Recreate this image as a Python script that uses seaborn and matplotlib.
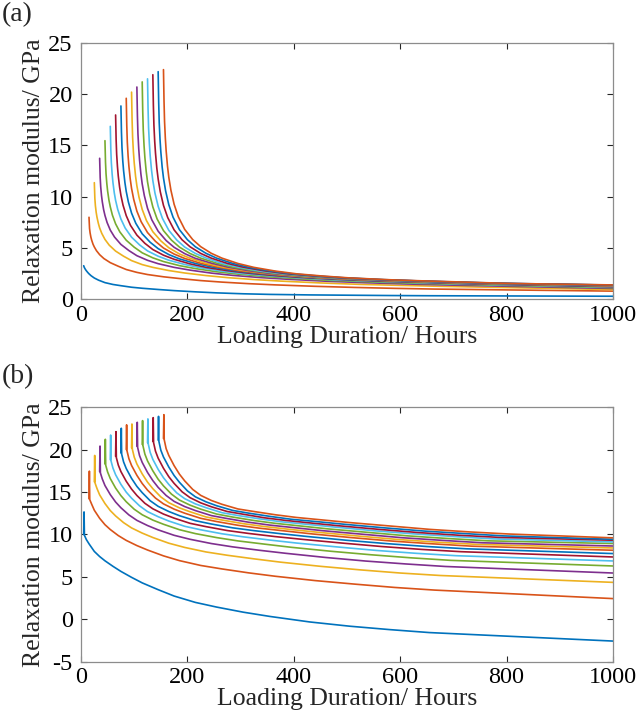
import matplotlib
matplotlib.use("Agg")
import pandas as pd
import seaborn as sns
import matplotlib.pyplot as plt

# loading ages (hours) at which each curve starts
start_hours = [5, 15, 25, 35, 45, 55, 65, 75, 85, 95, 105, 115, 125, 135, 145, 155]
end_hour = 1000

# hours after loading at which values were read; the last value of each row is at end_hour
offsets_a = [0, 1, 2, 3.5, 5, 7.5, 10, 14, 20, 28, 40, 55, 70, 90, 110, 140, 170,
             210, 250, 300, 350, 425, 500, 575, 650]
offsets_b = [0, 0.7, 1.4, 5, 10, 20, 30, 40, 55, 70, 90, 110, 140, 170, 210, 250,
             300, 350, 425, 500, 575, 650]

# (a) relaxation modulus, GPa
modulus_a = [
    [3.25, 3.1, 3.0, 2.87, 2.76, 2.6, 2.46, 2.27, 2.05, 1.84, 1.6, 1.42, 1.3, 1.15, 1.05, 0.93, 0.82, 0.70, 0.60, 0.51, 0.45, 0.40, 0.37, 0.34, 0.32, 0.27],
    [7.98, 6.89, 6.47, 6.05, 5.75, 5.36, 5.08, 4.72, 4.33, 3.95, 3.55, 3.2, 2.88, 2.6, 2.39, 2.17, 2.0, 1.80, 1.65, 1.50, 1.38, 1.24, 1.13, 1.04, 0.97, 0.77],
    [11.36, 9.82, 9.12, 8.46, 7.99, 7.40, 6.94, 6.41, 5.82, 5.26, 4.68, 4.18, 3.75, 3.36, 3.09, 2.78, 2.54, 2.29, 2.09, 1.90, 1.75, 1.57, 1.43, 1.33, 1.24, 0.92],
    [13.74, 11.87, 10.95, 10.10, 9.49, 8.72, 8.16, 7.47, 6.73, 6.05, 5.33, 4.73, 4.23, 3.78, 3.45, 3.09, 2.82, 2.53, 2.31, 2.10, 1.94, 1.74, 1.59, 1.47, 1.37, 1.03],
    [15.46, 13.37, 12.24, 11.26, 10.54, 9.65, 9.00, 8.19, 7.34, 6.55, 5.74, 5.06, 4.51, 4.02, 3.66, 3.26, 2.97, 2.66, 2.43, 2.20, 2.03, 1.82, 1.67, 1.55, 1.45, 1.10],
    [16.86, 14.58, 13.30, 12.19, 11.38, 10.37, 9.63, 8.75, 7.81, 6.93, 6.04, 5.29, 4.70, 4.18, 3.79, 3.37, 3.05, 2.73, 2.48, 2.26, 2.07, 1.87, 1.72, 1.60, 1.48, 1.16],
    [17.97, 15.54, 14.12, 12.92, 12.02, 10.93, 10.12, 9.16, 8.14, 7.19, 6.24, 5.44, 4.83, 4.28, 3.88, 3.43, 3.09, 2.77, 2.52, 2.28, 2.10, 1.90, 1.74, 1.63, 1.51, 1.20],
    [18.85, 16.31, 14.78, 13.48, 12.54, 11.37, 10.50, 9.48, 8.39, 7.39, 6.37, 5.54, 4.92, 4.34, 3.92, 3.47, 3.13, 2.79, 2.53, 2.30, 2.11, 1.91, 1.76, 1.64, 1.53, 1.24],
    [19.6, 16.95, 15.33, 13.96, 12.96, 11.72, 10.80, 9.74, 8.58, 7.55, 6.49, 5.63, 4.98, 4.39, 3.96, 3.49, 3.14, 2.78, 2.53, 2.29, 2.12, 1.92, 1.76, 1.65, 1.53, 1.27],
    [20.2, 17.47, 15.78, 14.34, 13.29, 12.0, 11.05, 9.94, 8.75, 7.66, 6.57, 5.68, 5.01, 4.40, 3.98, 3.49, 3.13, 2.79, 2.53, 2.29, 2.10, 1.92, 1.77, 1.65, 1.54, 1.29],
    [20.7, 17.91, 16.13, 14.66, 13.58, 12.23, 11.24, 10.10, 8.86, 7.74, 6.62, 5.71, 5.05, 4.43, 3.97, 3.50, 3.13, 2.77, 2.50, 2.28, 2.10, 1.91, 1.77, 1.65, 1.54, 1.31],
    [21.2, 18.34, 16.49, 14.97, 13.84, 12.47, 11.45, 10.26, 8.99, 7.82, 6.68, 5.75, 5.07, 4.44, 3.99, 3.50, 3.12, 2.77, 2.50, 2.27, 2.09, 1.91, 1.76, 1.65, 1.53, 1.33],
    [21.5, 18.60, 16.71, 15.15, 14.01, 12.60, 11.56, 10.34, 9.05, 7.88, 6.71, 5.76, 5.07, 4.45, 4.0, 3.48, 3.12, 2.75, 2.49, 2.27, 2.09, 1.90, 1.76, 1.64, 1.53, 1.34],
    [21.9, 18.94, 17.0, 15.40, 14.24, 12.77, 11.72, 10.47, 9.14, 7.95, 6.75, 5.78, 5.10, 4.45, 3.99, 3.48, 3.11, 2.75, 2.48, 2.26, 2.08, 1.89, 1.76, 1.64, 1.53, 1.355],
    [22.2, 19.20, 17.22, 15.58, 14.39, 12.90, 11.82, 10.56, 9.21, 7.99, 6.77, 5.79, 5.10, 4.46, 3.99, 3.48, 3.10, 2.74, 2.47, 2.25, 2.07, 1.89, 1.75, 1.64, 1.53, 1.365],
    [22.4, 19.38, 17.36, 15.70, 14.49, 12.99, 11.89, 10.62, 9.25, 8.02, 6.79, 5.80, 5.11, 4.46, 3.99, 3.47, 3.09, 2.73, 2.46, 2.24, 2.06, 1.88, 1.75, 1.64, 1.52, 1.375],
]

# (b) relaxation modulus, GPa
modulus_b = [
    [10.0, 12.65, 9.9, 9.4, 8.9, 8.0, 7.4, 6.9, 6.25, 5.65, 4.95, 4.3, 3.5, 2.75, 2.0, 1.45, 0.85, 0.35, -0.3, -0.8, -1.2, -1.55, -2.55],
    [14.2, 17.45, 14.1, 13.56, 12.85, 11.90, 11.15, 10.58, 9.87, 9.30, 8.69, 8.17, 7.48, 6.92, 6.35, 5.94, 5.48, 5.08, 4.57, 4.15, 3.76, 3.45, 2.45],
    [16.2, 19.3, 16.05, 15.41, 14.66, 13.64, 12.81, 12.18, 11.39, 10.77, 10.16, 9.64, 8.97, 8.47, 7.94, 7.55, 7.13, 6.74, 6.25, 5.83, 5.46, 5.17, 4.36],
    [17.4, 20.4, 17.25, 16.53, 15.76, 14.69, 13.82, 13.14, 12.30, 11.66, 11.05, 10.54, 9.90, 9.43, 8.93, 8.54, 8.14, 7.78, 7.29, 6.87, 6.53, 6.23, 5.46],
    [18.3, 21.2, 18.15, 17.35, 16.58, 15.46, 14.57, 13.85, 12.97, 12.32, 11.69, 11.20, 10.56, 10.10, 9.63, 9.24, 8.86, 8.49, 8.02, 7.61, 7.25, 6.95, 6.29],
    [18.8, 21.7, 18.65, 17.82, 17.03, 15.90, 14.98, 14.27, 13.37, 12.69, 12.09, 11.58, 10.96, 10.55, 10.08, 9.72, 9.34, 8.99, 8.54, 8.12, 7.78, 7.50, 6.88],
    [19.2, 22.1, 19.05, 18.18, 17.40, 16.26, 15.34, 14.59, 13.67, 13.02, 12.40, 11.92, 11.31, 10.92, 10.46, 10.12, 9.75, 9.43, 8.99, 8.58, 8.24, 7.97, 7.35],
    [19.6, 22.5, 19.45, 18.54, 17.76, 16.60, 15.66, 14.92, 13.97, 13.31, 12.70, 12.21, 11.62, 11.23, 10.78, 10.45, 10.09, 9.76, 9.31, 8.92, 8.58, 8.31, 7.75],
    [20.0, 22.9, 19.85, 18.92, 18.12, 16.96, 16.00, 15.22, 14.28, 13.60, 12.98, 12.50, 11.90, 11.52, 11.08, 10.74, 10.40, 10.06, 9.62, 9.22, 8.90, 8.62, 8.14],
    [20.2, 23.0, 20.05, 19.11, 18.30, 17.13, 16.16, 15.39, 14.42, 13.74, 13.13, 12.67, 12.06, 11.70, 11.27, 10.93, 10.58, 10.26, 9.82, 9.41, 9.09, 8.83, 8.41],
    [20.4, 23.2, 20.25, 19.28, 18.48, 17.30, 16.34, 15.54, 14.59, 13.89, 13.28, 12.81, 12.22, 11.87, 11.44, 11.10, 10.77, 10.44, 10.02, 9.61, 9.30, 9.02, 8.64],
    [20.6, 23.4, 20.45, 19.47, 18.66, 17.49, 16.50, 15.72, 14.75, 14.05, 13.45, 12.98, 12.40, 12.05, 11.64, 11.31, 10.98, 10.65, 10.24, 9.83, 9.52, 9.25, 8.93],
    [20.8, 23.6, 20.65, 19.66, 18.84, 17.66, 16.68, 15.89, 14.89, 14.21, 13.60, 13.15, 12.56, 12.23, 11.84, 11.50, 11.19, 10.88, 10.44, 10.07, 9.76, 9.48, 9.12],
    [20.95, 23.75, 20.8, 19.80, 18.98, 17.79, 16.80, 16.01, 15.02, 14.33, 13.72, 13.26, 12.70, 12.38, 11.96, 11.65, 11.33, 11.02, 10.60, 10.22, 9.91, 9.66, 9.32],
    [21.1, 23.9, 20.95, 19.92, 19.12, 17.94, 16.94, 16.14, 15.13, 14.43, 13.84, 13.38, 12.83, 12.51, 12.13, 11.79, 11.50, 11.20, 10.78, 10.40, 10.11, 9.83, 9.43],
    [21.3, 24.1, 21.15, 20.1, 19.3, 18.1, 17.1, 16.3, 15.3, 14.6, 14.0, 13.55, 13.0, 12.7, 12.32, 12.0, 11.7, 11.4, 11.0, 10.6, 10.3, 10.05, 9.6],
]

# MATLAB default line colours
matlab_colors = ["#0072BD", "#D95319", "#EDB120", "#7E2F8E", "#77AC30", "#4DBEEE", "#A2142F"]


def make_frame(offsets, values):
    rows = []
    for i, (t0, vals) in enumerate(zip(start_hours, values)):
        hours = [t0 + dt for dt in offsets] + [end_hour]
        for h, v in zip(hours, vals):
            rows.append({"curve": i, "hours": h, "modulus": v})
    return pd.DataFrame(rows)


def style_axis(ax, ylim, yticks):
    ax.set_xlim(0, 1000)
    ax.set_ylim(*ylim)
    ax.set_xticks(range(0, 1001, 200))
    ax.set_yticks(yticks)
    ax.tick_params(direction="in", top=True, right=True, length=4, width=0.8,
                   colors="#262626", labelcolor="black", labelsize=17.5)
    ax.tick_params(axis="y", pad=6)
    ax.tick_params(axis="x", pad=4)
    for sp in ax.spines.values():
        sp.set_color("#8c8c8c")
        sp.set_linewidth(0.9)
    ax.set_xlabel("Loading Duration/ Hours", fontsize=18.5, labelpad=0)
    ax.set_ylabel("Relaxation modulus/ GPa", fontsize=18.5, labelpad=2)


sns.set_style("ticks")
plt.rcParams["font.family"] = ["Liberation Serif", "DejaVu Serif"]
plt.rcParams["axes.unicode_minus"] = False

palette = [matlab_colors[i % 7] for i in range(len(start_hours))]

fig = plt.figure(figsize=(6.36, 7.24), dpi=100)
ax_a = fig.add_axes([0.1274, 0.587, 0.8364, 0.3536])
ax_b = fig.add_axes([0.1274, 0.0858, 0.8364, 0.352])

for ax, offsets, values in [(ax_a, offsets_a, modulus_a), (ax_b, offsets_b, modulus_b)]:
    df = make_frame(offsets, values)
    sns.lineplot(data=df, x="hours", y="modulus", hue="curve", palette=palette,
                 estimator=None, legend=False, linewidth=1.2, ax=ax)

style_axis(ax_a, (0, 25), range(0, 26, 5))
style_axis(ax_b, (-5, 25), range(-5, 26, 5))

fig.text(0.002, 0.997, "(a)", fontsize=20, va="top", ha="left")
fig.text(0.002, 0.497, "(b)", fontsize=20, va="top", ha="left")

fig.savefig("out.png", dpi=100, facecolor="white")
